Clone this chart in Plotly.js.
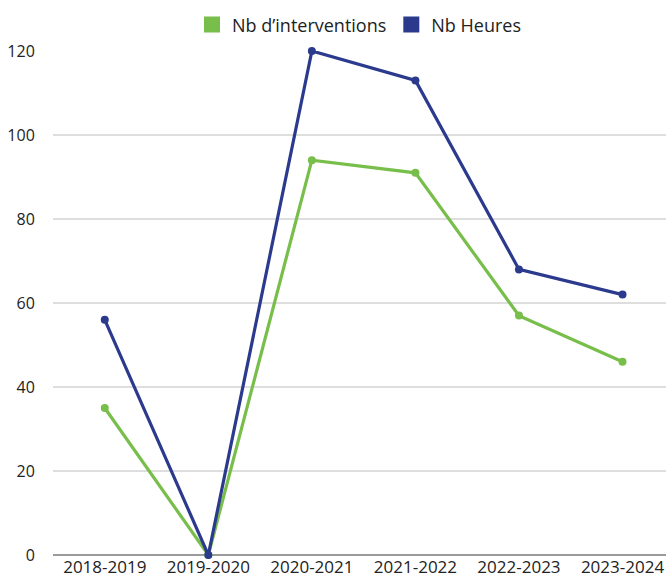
<!DOCTYPE html>
<html>
<head>
<meta charset="utf-8">
<script src="https://cdn.plot.ly/plotly-3.0.1.min.js"></script>
<style>html,body{margin:0;padding:0;background:#fff;}#chart{width:666px;height:581px;}</style>
</head>
<body>
<div id="chart"></div>
<script>
const years = ["2018-2019", "2019-2020", "2020-2021", "2021-2022", "2022-2023", "2023-2024"];
const interventions = [35, 0, 94, 91, 57, 46];
const heures = [56, 0, 120, 113, 68, 62];
const seriesNames = ["Nb d\u2019interventions", "Nb Heures"];
const yTicks = [0, 20, 40, 60, 80, 100, 120];

const green = "#78BE4A";
const blue = "#2C3A8E";

const traces = [
  {x: years, y: interventions, type: "scatter", mode: "lines+markers", name: seriesNames[0],
   line: {color: green, width: 3.2}, marker: {color: green, size: 8}, showlegend: false, cliponaxis: false},
  {x: years, y: heures, type: "scatter", mode: "lines+markers", name: seriesNames[1],
   line: {color: blue, width: 3.2}, marker: {color: blue, size: 8}, showlegend: false, cliponaxis: false},
  {x: [null], y: [null], type: "scatter", mode: "markers", name: seriesNames[0],
   marker: {color: green, size: 20, symbol: "square"}, showlegend: true},
  {x: [null], y: [null], type: "scatter", mode: "markers", name: seriesNames[1],
   marker: {color: blue, size: 20, symbol: "square"}, showlegend: true}
];

const layout = {
  width: 666, height: 581,
  margin: {l: 53, r: 0, t: 51, b: 26, pad: 0},
  paper_bgcolor: "#fff", plot_bgcolor: "#fff",
  font: {family: "Open Sans, sans-serif", color: "#222", size: 16},
  showlegend: true,
  legend: {orientation: "h", x: 0.5, xanchor: "center", y: 1.052, yanchor: "middle",
           font: {size: 18, color: "#222"}, itemwidth: 30, tracegroupgap: 0},
  xaxis: {type: "category", categoryorder: "array", categoryarray: years,
          range: [-0.5, 5.42], showgrid: false, zeroline: false, showline: false,
          ticks: "", tickfont: {size: 17, color: "#222"}, fixedrange: true},
  yaxis: {range: [0, 120], tickvals: yTicks, ticktext: yTicks.map(String),
          showgrid: true, gridcolor: "#dedede", gridwidth: 1.5,
          zeroline: true, zerolinecolor: "#9a9a9a", zerolinewidth: 1.5,
          showline: false, ticks: "outside", ticklen: 14, tickcolor: "rgba(0,0,0,0)",
          tickfont: {size: 16, color: "#222"}, fixedrange: true}
};

Plotly.newPlot("chart", traces, layout, {displayModeBar: false, staticPlot: true});
</script>
</body>
</html>
